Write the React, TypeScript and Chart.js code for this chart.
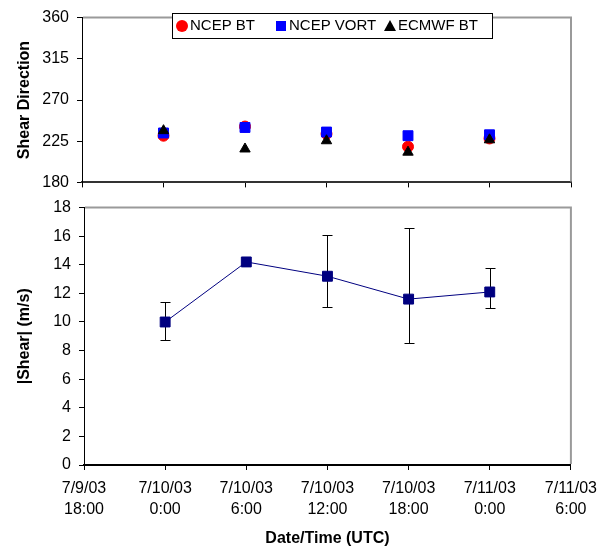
import React, { useEffect, useRef } from 'react';
import { Chart, registerables } from 'chart.js';

Chart.register(...registerables);

// ---------- data ----------
const timeLabels: string[][] = [
  ['7/9/03', '18:00'],
  ['7/10/03', '0:00'],
  ['7/10/03', '6:00'],
  ['7/10/03', '12:00'],
  ['7/10/03', '18:00'],
  ['7/11/03', '0:00'],
  ['7/11/03', '6:00'],
];

const ncepBT: (number | null)[] = [null, 231, 241, 233, 219, 228, null];
const ncepVort: (number | null)[] = [null, 234, 240, 235, 231, 232, null];
const ecmwfBT: (number | null)[] = [null, 236.5, 216.5, 225.5, 213, 226.5, null];

const shearMean: (number | null)[] = [null, 10.0, 14.2, 13.2, 11.6, 12.1, null];
const shearHigh: (number | null)[] = [null, 11.4, null, 16.05, 16.6, 13.8, null];
const shearLow: (number | null)[] = [null, 8.75, null, 11.05, 8.55, 11.0, null];

const dirTicks = [180, 225, 270, 315, 360];
const shearTicks = [0, 2, 4, 6, 8, 10, 12, 14, 16, 18];

const legendItems = [
  { label: 'NCEP BT', color: '#ff0000', style: 'circle' },
  { label: 'NCEP VORT', color: '#0000ff', style: 'rect' },
  { label: 'ECMWF BT', color: '#000000', style: 'triangle' },
];

const FONT = '"Liberation Sans", Arial, Helvetica, sans-serif';

export default function App() {
  const topRef = useRef<HTMLCanvasElement>(null);
  const botRef = useRef<HTMLCanvasElement>(null);

  useEffect(() => {
    const framePlugin = {
      id: 'frame',
      beforeDatasetsDraw(chart: any) {
        const { ctx, chartArea } = chart;
        const { left, top, right, bottom } = chartArea;
        ctx.save();
        ctx.strokeStyle = '#9a9a9a';
        ctx.lineWidth = 2;
        ctx.beginPath();
        ctx.moveTo(left + 1, top);
        ctx.lineTo(right, top);
        ctx.lineTo(right, bottom - 1);
        ctx.stroke();
        ctx.restore();
      },
    };

    const legendPlugin = {
      id: 'boxLegend',
      afterDraw(chart: any) {
        const { ctx } = chart;
        const bx = 172, by = 13, bw = 320, bh = 25;
        ctx.save();
        ctx.fillStyle = '#ffffff';
        ctx.fillRect(bx, by, bw, bh);
        ctx.strokeStyle = '#000000';
        ctx.lineWidth = 1;
        ctx.strokeRect(bx + 0.5, by + 0.5, bw, bh);
        const cy = by + bh / 2 + 0.5;
        const xs = [182, 281, 390];
        ctx.font = `15px ${FONT}`;
        ctx.textBaseline = 'middle';
        ctx.textAlign = 'left';
        legendItems.forEach((it, i) => {
          const x = xs[i];
          ctx.fillStyle = it.color;
          ctx.beginPath();
          if (it.style === 'circle') {
            ctx.arc(x, cy, 6, 0, Math.PI * 2);
          } else if (it.style === 'rect') {
            ctx.rect(x - 5, cy - 5, 10, 10);
          } else {
            ctx.moveTo(x, cy - 6);
            ctx.lineTo(x + 6, cy + 5);
            ctx.lineTo(x - 6, cy + 5);
            ctx.closePath();
          }
          ctx.fill();
          ctx.fillStyle = '#000000';
          ctx.fillText(it.label, x + 8, cy);
        });
        ctx.restore();
      },
    };

    const errorPlugin = {
      id: 'errorBars',
      beforeDatasetsDraw(chart: any) {
        const { ctx } = chart;
        const xs = chart.scales.x;
        const ys = chart.scales.y;
        ctx.save();
        ctx.strokeStyle = '#000000';
        ctx.lineWidth = 1;
        for (let i = 0; i < shearHigh.length; i++) {
          const hi = shearHigh[i];
          const lo = shearLow[i];
          if (hi == null || lo == null) continue;
          const px = Math.round(xs.getPixelForValue(i)) + 0.5;
          const yh = Math.round(ys.getPixelForValue(hi)) + 0.5;
          const yl = Math.round(ys.getPixelForValue(lo)) + 0.5;
          ctx.beginPath();
          ctx.moveTo(px, yh);
          ctx.lineTo(px, yl);
          ctx.moveTo(px - 5, yh);
          ctx.lineTo(px + 5, yh);
          ctx.moveTo(px - 5, yl);
          ctx.lineTo(px + 5, yl);
          ctx.stroke();
        }
        ctx.restore();
      },
    };

    const tickFont = { family: FONT, size: 16 };
    const titleFont = { family: FONT, size: 16, weight: 'bold' as const };

    const top = new Chart(topRef.current!, {
      type: 'line',
      data: {
        labels: timeLabels,
        datasets: [
          {
            label: 'NCEP BT',
            data: ncepBT,
            showLine: false,
            pointStyle: 'circle',
            pointRadius: 5.5,
            pointBorderWidth: 1,
            pointBackgroundColor: '#ff0000',
            pointBorderColor: '#ff0000',
            order: 3,
          },
          {
            label: 'NCEP VORT',
            data: ncepVort,
            showLine: false,
            pointStyle: 'rect',
            pointRadius: 7,
            pointBorderWidth: 1,
            pointBackgroundColor: '#0000ff',
            pointBorderColor: '#0000ff',
            order: 2,
          },
          {
            label: 'ECMWF BT',
            data: ecmwfBT,
            showLine: false,
            pointStyle: 'triangle',
            pointRadius: 6,
            pointBorderWidth: 1,
            pointBackgroundColor: '#000000',
            pointBorderColor: '#000000',
            order: 1,
          },
        ],
      },
      options: {
        responsive: false,
        animation: false,
        events: [],
        layout: { padding: { top: 13, right: 34, left: 0, bottom: 0 } },
        plugins: { legend: { display: false }, tooltip: { enabled: false } },
        scales: {
          x: {
            type: 'category',
            offset: false,
            ticks: { display: false },
            grid: { drawOnChartArea: false, drawTicks: true, tickLength: 5, color: '#000000', lineWidth: 1 },
            border: { display: true, color: '#333333', width: 2 },
            afterFit: (s: any) => { s.height = 17; },
          },
          y: {
            min: 180,
            max: 360,
            afterBuildTicks: (s: any) => { s.ticks = dirTicks.map((v) => ({ value: v })); },
            ticks: { color: '#000000', font: tickFont, padding: 8 },
            grid: { drawOnChartArea: false, drawTicks: true, tickLength: 5, color: '#000000', lineWidth: 1 },
            border: { display: true, color: '#000000', width: 1 },
            title: { display: true, text: 'Shear Direction', color: '#000000', font: titleFont, padding: { top: 15, bottom: 0 } },
            afterFit: (s: any) => { s.width = 82; },
          },
        },
      } as any,
      plugins: [framePlugin, legendPlugin],
    });

    const bottom = new Chart(botRef.current!, {
      type: 'line',
      data: {
        labels: timeLabels,
        datasets: [
          {
            label: '|Shear|',
            data: shearMean,
            borderColor: '#000080',
            borderWidth: 1,
            pointStyle: 'rect',
            pointRadius: 7,
            pointBorderWidth: 1,
            pointBackgroundColor: '#000080',
            pointBorderColor: '#000080',
            tension: 0,
          },
        ],
      },
      options: {
        responsive: false,
        animation: false,
        events: [],
        layout: { padding: { top: 11, right: 32, left: 0, bottom: 0 } },
        plugins: { legend: { display: false }, tooltip: { enabled: false } },
        scales: {
          x: {
            type: 'category',
            offset: false,
            ticks: { color: '#000000', font: { ...tickFont, lineHeight: 1.3 }, padding: 8, autoSkip: false, maxRotation: 0, minRotation: 0 },
            grid: { drawOnChartArea: false, drawTicks: true, tickLength: 5, color: '#000000', lineWidth: 1 },
            border: { display: true, color: '#000000', width: 2 },
            title: { display: true, text: 'Date/Time (UTC)', color: '#000000', font: titleFont, padding: { top: 0, bottom: 0 } },
            afterFit: (s: any) => { s.height = 83; },
          },
          y: {
            min: 0,
            max: 18,
            afterBuildTicks: (s: any) => { s.ticks = shearTicks.map((v) => ({ value: v })); },
            ticks: { color: '#000000', font: tickFont, padding: 8 },
            grid: { drawOnChartArea: false, drawTicks: true, tickLength: 5, color: '#000000', lineWidth: 1 },
            border: { display: true, color: '#000000', width: 1 },
            title: { display: true, text: '|Shear| (m/s)', color: '#000000', font: titleFont, padding: { top: 15, bottom: 0 } },
            afterFit: (s: any) => { s.width = 84; },
          },
        },
      } as any,
      plugins: [framePlugin, errorPlugin],
    });

    return () => {
      top.destroy();
      bottom.destroy();
    };
  }, []);

  return (
    <div style={{ position: 'fixed', left: 0, top: 0, width: 605, height: 548, background: '#ffffff' }}>
      <canvas ref={topRef} width={605} height={200} style={{ position: 'absolute', left: 0, top: 0 }} />
      <canvas ref={botRef} width={605} height={358} style={{ position: 'absolute', left: 0, top: 190 }} />
    </div>
  );
}
